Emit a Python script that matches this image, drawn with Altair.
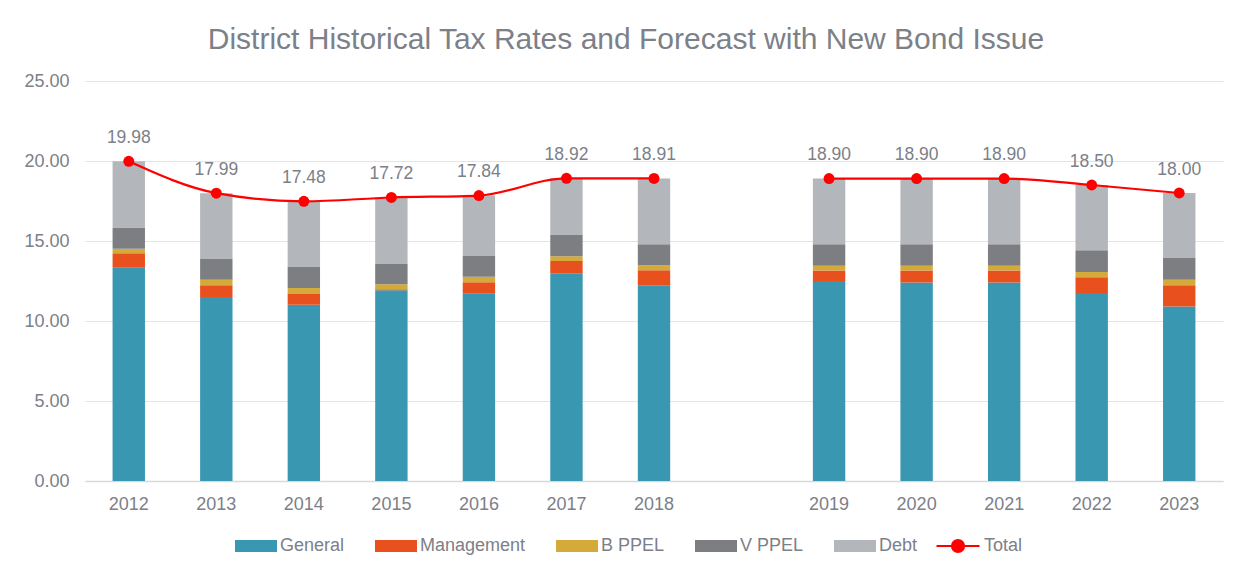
import altair as alt
import pandas as pd

years = ["2012", "2013", "2014", "2015", "2016", "2017", "2018",
         "2019", "2020", "2021", "2022", "2023"]
x_domain = ["2012", "2013", "2014", "2015", "2016", "2017", "2018", " ",
            "2019", "2020", "2021", "2022", "2023"]
period = ["hist"] * 7 + ["fcst"] * 5

general = [13.33, 11.50, 11.02, 11.92, 11.71, 12.98, 12.23, 12.50, 12.40, 12.40, 11.75, 10.90]
management = [0.90, 0.73, 0.67, 0.06, 0.71, 0.77, 0.94, 0.65, 0.75, 0.75, 0.98, 1.33]
b_ppel = [0.29, 0.35, 0.37, 0.31, 0.35, 0.29, 0.31, 0.31, 0.31, 0.31, 0.33, 0.35]
v_ppel = [1.33, 1.29, 1.31, 1.27, 1.29, 1.34, 1.31, 1.33, 1.33, 1.33, 1.36, 1.36]
total = [19.98, 17.99, 17.48, 17.72, 17.84, 18.92, 18.91, 18.90, 18.90, 18.90, 18.50, 18.00]

series_names = ["General", "Management", "B PPEL", "V PPEL", "Debt"]
series_colors = ["#3a97b2", "#e8501e", "#d4aa3a", "#7d7e82", "#b3b6ba"]

rows = []
for i, y in enumerate(years):
    base = general[i] + management[i] + b_ppel[i] + v_ppel[i]
    debt = round(total[i] - base, 2)
    vals = [general[i], management[i], b_ppel[i], v_ppel[i], debt]
    for k, (name, v) in enumerate(zip(series_names, vals)):
        rows.append({"Year": y, "Series": name, "Value": v, "Order": k})
bars_df = pd.DataFrame(rows)

tot_df = pd.DataFrame({"Year": years, "Total": total, "Period": period,
                       "Label": ["%.2f" % t for t in total], "Name": ["Total"] * len(years)})

FONT = "Liberation Sans"
GRAY = "#7c8088"

yscale = alt.Scale(domain=[0, 25], nice=False)
xscale = alt.Scale(domain=x_domain, paddingInner=0.63, paddingOuter=0.315)

xenc = alt.X("Year:N", scale=xscale,
             axis=alt.Axis(title=None, labelAngle=0, ticks=False, domainColor="#d9d9d9",
                           domainWidth=1.5, labelFontSize=18, labelColor=GRAY,
                           labelPadding=14, labelFont=FONT))

bars = alt.Chart(bars_df).mark_bar().encode(
    x=xenc,
    y=alt.Y("sum(Value):Q", scale=yscale,
            axis=alt.Axis(title=None, format=".2f", values=[0, 5, 10, 15, 20, 25],
                          ticks=False, domain=False, gridColor="#e4e4e4", gridWidth=1.2,
                          labelFontSize=18, labelColor=GRAY, labelPadding=16, labelFont=FONT)),
    fill=alt.Fill("Series:N", scale=alt.Scale(domain=series_names, range=series_colors),
                  legend=alt.Legend(title=None, orient="none", legendX=150, legendY=444,
                                    direction="horizontal",
                                    symbolType="M-1,-0.28H1V0.28H-1Z", symbolSize=1764,
                                    symbolStrokeWidth=0, labelFontSize=18, labelColor=GRAY,
                                    labelFont=FONT, labelOffset=3, columnPadding=30)),
    order=alt.Order("Order:Q"),
)

line = alt.Chart(tot_df).mark_line(interpolate="monotone", strokeWidth=2.2).encode(
    x=alt.X("Year:N", scale=xscale),
    y=alt.Y("Total:Q", scale=yscale),
    detail="Period:N",
    stroke=alt.Stroke("Name:N", scale=alt.Scale(domain=["Total"], range=["#ff0000"]),
                      legend=alt.Legend(title=None, orient="none", legendX=850, legendY=442,
                                        symbolType="M-1,0H1M0.28,0A0.28,0.28,0,1,1,-0.28,0A0.28,0.28,0,1,1,0.28,0Z",
                                        symbolSize=1849, symbolStrokeWidth=2.2,
                                        symbolFillColor="#ff0000",
                                        labelFontSize=18, labelColor=GRAY, labelFont=FONT,
                                        labelOffset=3)),
)

points = alt.Chart(tot_df).mark_circle(size=120, color="#ff0000", opacity=1).encode(
    x=alt.X("Year:N", scale=xscale), y=alt.Y("Total:Q", scale=yscale))

labels = alt.Chart(tot_df).mark_text(fontSize=17.5, color=GRAY, dy=-18.5, baseline="alphabetic",
                                     font=FONT).encode(
    x=alt.X("Year:N", scale=xscale), y=alt.Y("Total:Q", scale=yscale), text="Label:N")

chart = alt.layer(bars, line, points, labels).properties(
    width=1138, height=400,
    autosize=alt.AutoSizeParams(type="none"),
    padding={"left": 77, "top": 73, "right": 10, "bottom": 80},
    title=alt.Title("District Historical Tax Rates and Forecast with New Bond Issue",
                    fontSize=30, font=FONT, color=GRAY, fontWeight="normal",
                    anchor="middle", offset=17, dx=-28),
).configure_view(stroke=None)

chart.save("out.html", embed_options={"renderer": "svg", "actions": False})
